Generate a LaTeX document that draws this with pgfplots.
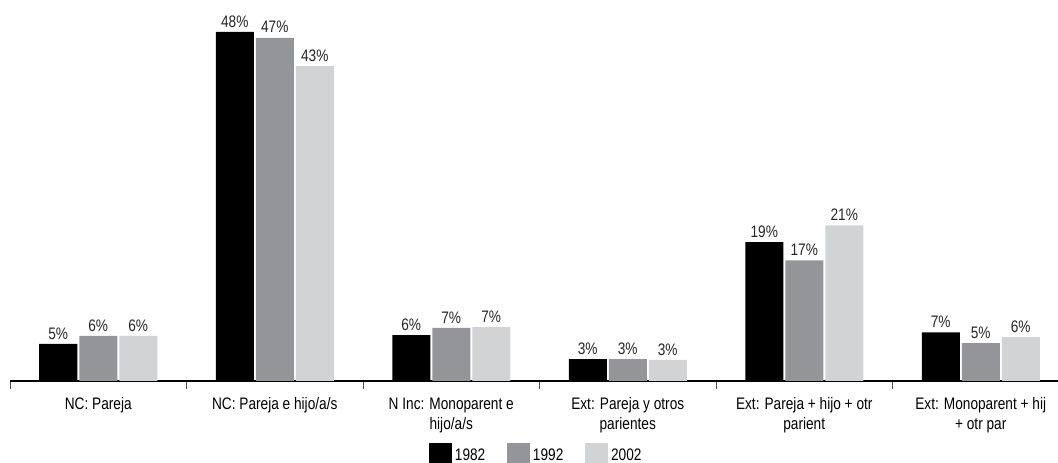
\documentclass[border=0pt]{standalone}
\usepackage{pgfplots}
\pgfplotsset{compat=1.18}
\usepackage{fontspec}
\setmainfont{Liberation Sans}[FakeStretch=0.82]
\definecolor{c82}{HTML}{000000}
\definecolor{c92}{HTML}{939598}
\definecolor{c02}{HTML}{D1D3D4}
\pgfplotsset{mylegend/.style={legend image code/.code={\fill[##1] (0pt,-7.5pt) rectangle (17.25pt,9.5pt);}}}
\begin{document}
\begin{tikzpicture}
\begin{axis}[
 scale only axis, width=786pt, height=285.75pt,
 xmin=-0.5, xmax=5.4377, ymin=0, ymax=52.4,
 ybar=1.5pt, bar width=28.5pt,
 axis x line*=bottom, axis y line=none,
 x axis line style={line width=1.5pt, -},
 xtick={0,...,5},
 xticklabels={NC: Pareja, NC: Pareja e hijo/a/s, {N Inc: Monoparent e\\hijo/a/s}, {Ext: Pareja y otros\\parientes}, {Ext: Pareja + hijo + otr\\parient}, {Ext: Monoparent + hij\\+ otr par}},
 major tick length=0pt,
 minor xtick={-0.5,0.5,1.5,2.5,3.5,4.5},
 minor tick length=6pt, tick align=outside,
 minor tick style={black!70, line width=0.6pt},
 xticklabel style={align=center, font=\fontsize{12.5}{15}\selectfont, yshift=-9pt},
 nodes near coords={\pgfmathprintnumber[fixed,precision=0,assume math mode=true]{\pgfplotspointmeta}\%},
 every node near coord/.append style={font=\fontsize{12.5}{15}\selectfont, text=black!85},
 legend columns=3,
 legend style={at={(0.3998,-0.1925)}, anchor=west, draw=none, inner sep=0pt, fill=none,
   font=\fontsize{12.5}{15}\selectfont, /tikz/every even column/.append style={column sep=14.5pt}},
 clip=false,
]
\addplot[fill=c82, draw=none, mylegend] coordinates {(0,5.1) (1,48.0) (2,6.3) (3,3.0) (4,19.1) (5,6.7)};
\addlegendentry{1982}
\addplot[fill=c92, draw=none, mylegend] coordinates {(0,6.2) (1,47.2) (2,7.3) (3,3.0) (4,16.6) (5,5.2)};
\addlegendentry{1992}
\addplot[fill=c02, draw=none, mylegend] coordinates {(0,6.2) (1,43.3) (2,7.4) (3,2.9) (4,21.4) (5,6.05)};
\addlegendentry{2002}
\end{axis}
\pgfresetboundingbox
\useasboundingbox (-7.5pt,-61.5pt) rectangle (786pt,285.75pt);
\end{tikzpicture}
\end{document}
